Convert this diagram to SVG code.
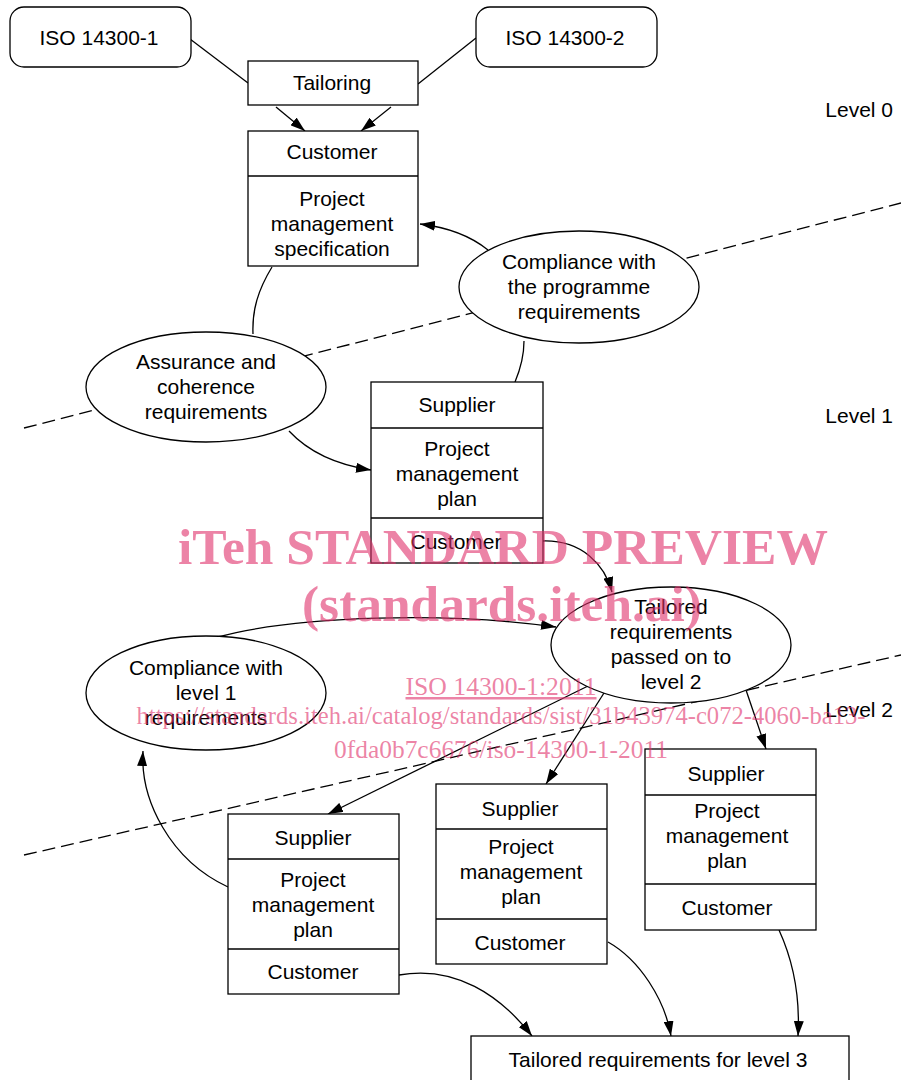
<svg xmlns="http://www.w3.org/2000/svg" width="901" height="1080" viewBox="0 0 901 1080">
<defs>
<marker id="arr" markerWidth="15" markerHeight="10" refX="15" refY="5" orient="auto" markerUnits="userSpaceOnUse">
<path d="M0,0 L15,5 L0,10 z" fill="#000"/>
</marker>
<style>
.b{fill:#fff;stroke:#000;stroke-width:1.3}
.l{fill:none;stroke:#000;stroke-width:1.3}
.c{fill:none;stroke:#000;stroke-width:1.3}
.a{marker-end:url(#arr)}
.d{fill:none;stroke:#000;stroke-width:1.3;stroke-dasharray:13,6}
text{font-family:"Liberation Sans",Arial,sans-serif;font-size:21px;fill:#000;text-anchor:middle}
.lv{text-anchor:end}
.wm{font-family:"Liberation Serif","Times New Roman",serif;fill:#e0306a;fill-opacity:0.6;text-anchor:middle}
.wb{font-size:50px;font-weight:bold}
.ws{font-size:25px}
</style>
</defs>
<rect width="901" height="1080" fill="#fff"/>
<g id="level-lines">
<line class="d" x1="24" y1="428" x2="901" y2="203"/>
<line class="d" x1="24" y1="855" x2="901" y2="655"/>
</g>
<g id="connectors">
<line class="l" x1="190" y1="39" x2="248" y2="83"/>
<line class="l" x1="476" y1="38" x2="418" y2="84"/>
<line class="l a" x1="276" y1="107" x2="305" y2="131"/>
<line class="l a" x1="391" y1="107" x2="361" y2="131"/>
<path class="c a" d="M488,250 Q462,229 420,224"/>
<path class="c" d="M272,267 C258,290 252,310 253,334"/>
<path class="c" d="M524,341 C524,358 520,370 515,382"/>
<path class="c a" d="M289,431 Q318,462 371,470"/>
<path class="c a" d="M543,541 C582,540 605,565 612,592"/>
<path class="c a" d="M218,637 C300,615 450,612 556,627"/>
<line class="l a" x1="588" y1="686" x2="328" y2="814"/>
<line class="l a" x1="604" y1="693" x2="546" y2="784"/>
<line class="l a" x1="746" y1="690" x2="766" y2="749"/>
<path class="c a" d="M228,887 C170,860 140,800 143,751"/>
<path class="c a" d="M399,975 C455,965 500,995 532,1036"/>
<path class="c a" d="M608,942 C640,960 665,1000 671,1036"/>
<path class="c a" d="M779,930 C795,965 800,1000 798,1036"/>
</g>
<g id="iso1"><rect class="b" x="10" y="7" width="181" height="60" rx="14"/><text x="99" y="45">ISO 14300-1</text></g>
<g id="iso2"><rect class="b" x="476" y="7" width="181" height="60" rx="14"/><text x="565" y="45">ISO 14300-2</text></g>
<g id="tailoring"><rect class="b" x="248" y="61" width="170" height="44"/><text x="332" y="90">Tailoring</text></g>
<g id="customer-spec">
<rect class="b" x="248" y="131" width="170" height="135"/>
<line class="l" x1="248" y1="176" x2="418" y2="176"/>
<text x="332" y="159">Customer</text>
<text x="332" y="206">Project</text>
<text x="332" y="231">management</text>
<text x="332" y="256">specification</text>
</g>
<g id="compliance-prog">
<ellipse class="b" cx="579" cy="287" rx="120" ry="56"/>
<text x="579" y="269">Compliance with</text>
<text x="579" y="294">the programme</text>
<text x="579" y="319">requirements</text>
</g>
<g id="assurance">
<ellipse class="b" cx="206" cy="387" rx="120" ry="55"/>
<text x="206" y="369">Assurance and</text>
<text x="206" y="394">coherence</text>
<text x="206" y="419">requirements</text>
</g>
<g id="supplier-l1">
<rect class="b" x="371" y="382" width="172" height="181"/>
<line class="l" x1="371" y1="428" x2="543" y2="428"/>
<line class="l" x1="371" y1="518" x2="543" y2="518"/>
<text x="457" y="412">Supplier</text>
<text x="457" y="456">Project</text>
<text x="457" y="481">management</text>
<text x="457" y="506">plan</text>
<text x="456" y="549">Customer</text>
</g>
<g id="tailored-l2">
<ellipse class="b" cx="671" cy="645" rx="120" ry="58"/>
<text x="671" y="614">Tailored</text>
<text x="671" y="639">requirements</text>
<text x="671" y="664">passed on to</text>
<text x="671" y="689">level 2</text>
</g>
<g id="compliance-l1">
<ellipse class="b" cx="206" cy="693" rx="120" ry="57"/>
<text x="206" y="675">Compliance with</text>
<text x="206" y="700">level 1</text>
<text x="206" y="725">requirements</text>
</g>
<g id="supplier-a">
<rect class="b" x="228" y="814" width="171" height="180"/>
<line class="l" x1="228" y1="859" x2="399" y2="859"/>
<line class="l" x1="228" y1="949" x2="399" y2="949"/>
<text x="313" y="845">Supplier</text>
<text x="313" y="887">Project</text>
<text x="313" y="912">management</text>
<text x="313" y="937">plan</text>
<text x="313" y="979">Customer</text>
</g>
<g id="supplier-b">
<rect class="b" x="436" y="784" width="171" height="180"/>
<line class="l" x1="436" y1="829" x2="607" y2="829"/>
<line class="l" x1="436" y1="919" x2="607" y2="919"/>
<text x="520" y="816">Supplier</text>
<text x="521" y="854">Project</text>
<text x="521" y="879">management</text>
<text x="521" y="904">plan</text>
<text x="520" y="950">Customer</text>
</g>
<g id="supplier-c">
<rect class="b" x="645" y="749" width="171" height="181"/>
<line class="l" x1="645" y1="795" x2="816" y2="795"/>
<line class="l" x1="645" y1="884" x2="816" y2="884"/>
<text x="726" y="781">Supplier</text>
<text x="727" y="818">Project</text>
<text x="727" y="843">management</text>
<text x="727" y="868">plan</text>
<text x="727" y="915">Customer</text>
</g>
<g id="tailored-l3">
<rect class="b" x="471" y="1036" width="378" height="60"/>
<text x="658" y="1067">Tailored requirements for level 3</text>
</g>
<g id="levels">
<text class="lv" x="893" y="117">Level 0</text>
<text class="lv" x="893" y="423">Level 1</text>
<text class="lv" x="893" y="717">Level 2</text>
</g>
<g id="watermark">
<text class="wm wb" x="503" y="564" textLength="650" lengthAdjust="spacingAndGlyphs">iTeh STANDARD PREVIEW</text>
<text class="wm wb" x="502" y="621" textLength="400" lengthAdjust="spacingAndGlyphs">(standards.iteh.ai)</text>
<text class="wm ws" x="501" y="695" textLength="191" lengthAdjust="spacingAndGlyphs" text-decoration="underline">ISO 14300-1:2011</text>
<text class="wm ws" x="501" y="724" textLength="729" lengthAdjust="spacingAndGlyphs">https://standards.iteh.ai/catalog/standards/sist/31b43974-c072-4060-ba13-</text>
<text class="wm ws" x="501" y="758" textLength="334" lengthAdjust="spacingAndGlyphs">0fda0b7c6676/iso-14300-1-2011</text>
</g>
</svg>
